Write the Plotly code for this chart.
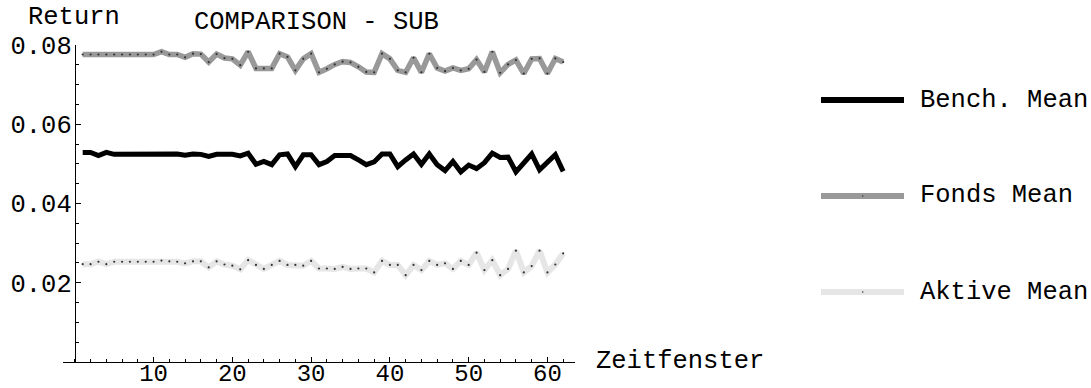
import plotly.graph_objects as go

x_vals = list(range(1, 63))

fonds_mean = [0.0776, 0.0776, 0.0776, 0.0776, 0.0776, 0.0776, 0.0776, 0.0776, 0.0776, 0.0776,
              0.0783, 0.0776, 0.0776, 0.0769, 0.0778, 0.0777, 0.0757, 0.0777, 0.0767, 0.0765,
              0.0749, 0.0783, 0.0741, 0.0741, 0.0741, 0.0778, 0.0770, 0.0736, 0.0765, 0.0778,
              0.0731, 0.0740, 0.0751, 0.0758, 0.0756, 0.0745, 0.0732, 0.0731, 0.0778, 0.0765,
              0.0736, 0.0731, 0.0768, 0.0731, 0.0778, 0.0742, 0.0734, 0.0742, 0.0736, 0.0740,
              0.0763, 0.0732, 0.0783, 0.0730, 0.0751, 0.0762, 0.0728, 0.0765, 0.0766, 0.0728,
              0.0766, 0.0757]

bench_mean = [0.0529, 0.0529, 0.0521, 0.0529, 0.0524, 0.0524, 0.0524, 0.0524, 0.0524, 0.0524,
              0.0527, 0.0524, 0.0525, 0.0522, 0.0525, 0.0524, 0.0519, 0.0524, 0.0525, 0.0524,
              0.0520, 0.0527, 0.0499, 0.0506, 0.0498, 0.0523, 0.0525, 0.0493, 0.0523, 0.0523,
              0.0498, 0.0506, 0.0521, 0.0521, 0.0521, 0.0510, 0.0498, 0.0505, 0.0525, 0.0525,
              0.0493, 0.0510, 0.0525, 0.0499, 0.0525, 0.0498, 0.0483, 0.0506, 0.0480, 0.0497,
              0.0488, 0.0503, 0.0527, 0.0516, 0.0517, 0.0480, 0.0505, 0.0525, 0.0485, 0.0503,
              0.0523, 0.0481]

aktive_mean = [0.0247, 0.0247, 0.0253, 0.0247, 0.0253, 0.0253, 0.0253, 0.0253, 0.0253, 0.0253,
               0.0256, 0.0254, 0.0253, 0.0249, 0.0254, 0.0254, 0.0239, 0.0254, 0.0246, 0.0243,
               0.0234, 0.0257, 0.0245, 0.0235, 0.0245, 0.0255, 0.0245, 0.0245, 0.0243, 0.0255,
               0.0236, 0.0236, 0.0235, 0.0240, 0.0235, 0.0236, 0.0236, 0.0226, 0.0255, 0.0245,
               0.0245, 0.0219, 0.0245, 0.0232, 0.0255, 0.0245, 0.0249, 0.0235, 0.0255, 0.0245,
               0.0276, 0.0232, 0.0257, 0.0219, 0.0235, 0.0281, 0.0226, 0.0242, 0.0281, 0.0226,
               0.0246, 0.0274]

x_ticks = [10, 20, 30, 40, 50, 60]
y_ticks = [0.02, 0.04, 0.06, 0.08]
y_tick_text = ["0.02", "0.04", "0.06", "0.08"]

series_names = ["Bench. Mean", "Fonds Mean", "Aktive Mean"]
series_colors = ["#000000", "#999999", "#e6e6e6"]

FONT = "Liberation Mono, Courier New, monospace"
FS = 25.5
W, H = 1091, 388
L, R, T, B = 63, 516, 45, 26
PW, PH = W - L - R, H - T - B
X_RANGE = [-1.5, 63.5]
Y_RANGE = [0, 0.08]


def px(xp):
    return (xp - L) / PW


def py(yp):
    return 1 - (yp - T) / PH


fig = go.Figure()
fig.add_trace(go.Scatter(x=x_vals, y=fonds_mean, mode="lines+markers", name=series_names[1],
                         line=dict(color=series_colors[1], width=5.5),
                         marker=dict(size=2.2, color="#333333")))
fig.add_trace(go.Scatter(x=x_vals, y=aktive_mean, mode="lines+markers", name=series_names[2],
                         line=dict(color=series_colors[2], width=6),
                         marker=dict(size=2.2, color="#333333")))
fig.add_trace(go.Scatter(x=x_vals, y=bench_mean, mode="lines", name=series_names[0],
                         line=dict(color=series_colors[0], width=5)))

fig.update_layout(
    width=W, height=H,
    margin=dict(l=L, r=R, t=T, b=B, pad=0, autoexpand=False),
    paper_bgcolor="white", plot_bgcolor="white",
    showlegend=False,
    font=dict(family=FONT, size=FS, color="black"),
    xaxis=dict(range=X_RANGE, showgrid=False, zeroline=False, showline=True,
               automargin=False,
               linecolor="black", linewidth=1, ticks="inside", ticklen=5,
               tickcolor="black", tickvals=x_ticks, ticklabelstandoff=-11,
               tickfont=dict(family=FONT, size=24),
               minor=dict(dtick=2, tick0=0, ticks="inside", ticklen=3, tickcolor="black")),
    yaxis=dict(range=Y_RANGE, showgrid=False, zeroline=False, showline=True,
               automargin=False,
               linecolor="black", linewidth=1, ticks="inside", ticklen=5,
               tickcolor="black", tickvals=y_ticks, ticktext=y_tick_text,
               ticklabelstandoff=-2,
               anchor="free", position=(0 - X_RANGE[0]) / (X_RANGE[1] - X_RANGE[0]),
               tickfont=dict(family=FONT, size=FS),
               minor=dict(dtick=0.005, tick0=0, ticks="inside", ticklen=3, tickcolor="black")),
)

annotations = [
    dict(text="Return", x=px(74), y=py(17), xanchor="center", yanchor="middle"),
    dict(text="COMPARISON - SUB", x=px(316), y=py(22), xanchor="center", yanchor="middle"),
    dict(text="Zeitfenster", x=px(594), y=py(361), xanchor="left", yanchor="middle"),
]
legend_y = [100, 196, 292]
shapes = []
for name, color, ly in zip(series_names, series_colors, legend_y):
    shapes.append(dict(type="line", xref="paper", yref="paper",
                       x0=px(821), x1=px(904), y0=py(ly), y1=py(ly),
                       line=dict(color=color, width=6)))
    annotations.append(dict(text=name, x=px(918), y=py(ly), xanchor="left", yanchor="middle"))
for ly in legend_y[1:]:
    shapes.append(dict(type="circle", xref="paper", yref="paper",
                       x0=px(862), x1=px(863.5), y0=py(ly - 0.7), y1=py(ly + 0.7),
                       line=dict(width=0), fillcolor="#333333"))

for a in annotations:
    a.update(xref="paper", yref="paper", showarrow=False,
             font=dict(family=FONT, size=FS, color="black"))

fig.update_layout(annotations=annotations, shapes=shapes)
fig.write_html("out.html")
